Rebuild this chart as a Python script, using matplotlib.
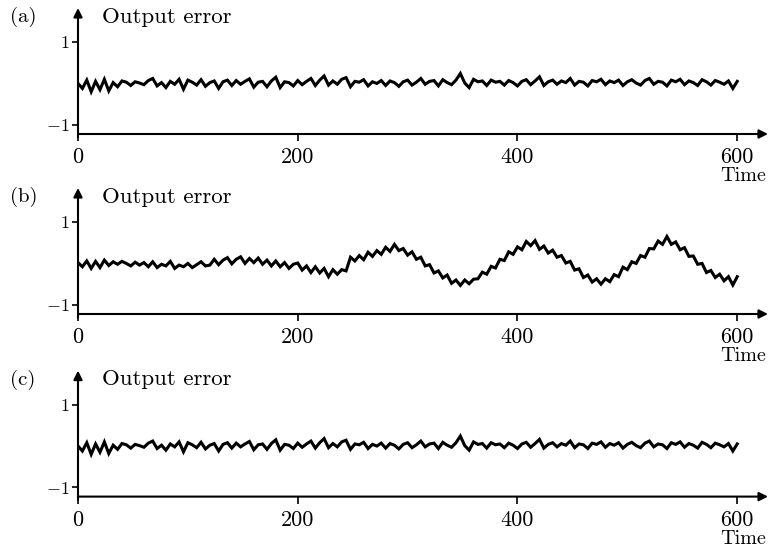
import numpy as np
import matplotlib.pyplot as plt

# Zaman ekseni (her 4 birimde bir okunan değerler)
time = np.arange(0, 601, 4)

# (a) çıkış hatası
err_a = [0.00, -0.12, 0.08, -0.20, 0.05, -0.15, 0.10, -0.18, 0.02, -0.08,
         0.06, 0.03, -0.05, 0.04, 0.01, -0.03, 0.07, 0.12, -0.06, 0.02,
         -0.10, 0.05, -0.02, 0.10, -0.14, 0.08, 0.03, -0.04, 0.09, -0.07,
         0.02, 0.06, -0.12, 0.04, 0.08, -0.05, 0.07, -0.02, 0.05, 0.11,
         -0.09, 0.03, 0.05, -0.08, 0.06, 0.15, -0.10, 0.04, 0.02, -0.06,
         0.07, -0.03, 0.05, 0.12, -0.05, 0.08, 0.18, -0.04, 0.06, -0.02,
         0.10, 0.14, -0.08, 0.05, 0.03, 0.09, -0.06, 0.04, 0.00, 0.07,
         -0.05, 0.06, 0.02, -0.07, 0.04, 0.08, -0.04, 0.03, 0.12, -0.02,
         0.05, 0.07, -0.06, 0.09, 0.02, -0.03, 0.08, 0.24, 0.01, -0.10,
         0.10, 0.04, 0.06, -0.05, 0.08, 0.03, 0.05, -0.04, 0.07, 0.02,
         -0.06, 0.05, 0.09, -0.03, 0.06, 0.16, -0.05, 0.04, 0.08, -0.02,
         0.06, 0.02, 0.12, -0.04, 0.05, 0.03, -0.06, 0.07, 0.04, 0.10,
         -0.03, 0.06, 0.02, 0.08, -0.05, 0.04, 0.09, 0.01, -0.04, 0.07,
         0.12, -0.02, 0.05, 0.03, -0.06, 0.08, 0.04, 0.10, -0.03, 0.06,
         0.02, -0.05, 0.09, 0.04, -0.04, 0.07, 0.03, -0.02, 0.06, -0.12,
         0.05]

# (b) çıkış hatası - yavaş salınımlı
err_b = [0.02, -0.08, 0.06, -0.12, 0.05, -0.10, 0.08, -0.05, 0.04, -0.02,
         0.05, 0.00, -0.06, 0.03, -0.04, 0.02, -0.08, 0.04, -0.10, -0.02,
         -0.06, 0.05, -0.12, -0.04, -0.08, 0.00, -0.10, -0.03, 0.04, -0.06,
         -0.04, 0.10, -0.03, 0.08, 0.14, -0.01, 0.10, 0.16, 0.00, 0.12,
         0.02, 0.13, -0.02, 0.08, -0.06, 0.06, -0.08, 0.02, -0.12, -0.02,
         0.01, -0.16, -0.06, -0.22, -0.08, -0.23, -0.12, -0.32, -0.15, -0.26,
         -0.15, -0.18, 0.15, 0.06, 0.19, 0.09, 0.27, 0.17, 0.31, 0.22,
         0.39, 0.29, 0.46, 0.31, 0.36, 0.20, 0.28, 0.10, 0.15, -0.06,
         -0.03, -0.23, -0.18, -0.35, -0.28, -0.48, -0.40, -0.53, -0.40, -0.49,
         -0.38, -0.37, -0.21, -0.26, -0.07, -0.11, 0.10, 0.07, 0.28, 0.22,
         0.40, 0.33, 0.53, 0.43, 0.55, 0.34, 0.42, 0.25, 0.32, 0.15,
         0.19, 0.01, 0.05, -0.16, -0.13, -0.34, -0.28, -0.45, -0.37, -0.50,
         -0.37, -0.44, -0.27, -0.32, -0.09, -0.15, 0.04, 0.00, 0.19, 0.15,
         0.36, 0.35, 0.54, 0.46, 0.65, 0.46, 0.52, 0.33, 0.38, 0.17,
         0.18, -0.02, 0.00, -0.22, -0.17, -0.34, -0.26, -0.42, -0.32, -0.52,
         -0.32]

# (c) çıkış hatası - (a) ile neredeyse aynı
err_c = list(err_a)

panels = ['(a)', '(b)', '(c)']
series = [err_a, err_b, err_c]
xticks = [0, 200, 400, 600]
xticklabels = ['0', '200', '400', '600']
yticks = [-1, 1]
yticklabels = [r'$-1$', r'$1$']

plt.rcParams['font.family'] = ['cmr10', 'DejaVu Serif']
plt.rcParams['mathtext.fontset'] = 'cm'

fig = plt.figure(figsize=(7.71, 5.5), dpi=100)

W, H = 771, 550
ymin, ymax = -1.22, 1.82
xmin, xmax = 0, 628
bottoms_px = [134, 314, 496.6]
height_px = 126

for label, err, bpx in zip(panels, series, bottoms_px):
    ax = fig.add_axes([78 / W, 1 - bpx / H, 690 / W, height_px / H])
    ax.plot(time, err, color='black', lw=2.2, solid_joinstyle='miter')
    ax.set_xlim(xmin, xmax)
    ax.set_ylim(ymin, ymax)
    for s in ax.spines.values():
        s.set_visible(False)

    # Eksen okları
    ax.annotate('', xy=(0, ymax), xytext=(0, ymin - 0.08),
                arrowprops=dict(arrowstyle='-|>', lw=1.5, color='black',
                                mutation_scale=13, shrinkA=0, shrinkB=0),
                annotation_clip=False)
    ax.annotate('', xy=(xmax, ymin), xytext=(0, ymin),
                arrowprops=dict(arrowstyle='-|>', lw=1.5, color='black',
                                mutation_scale=13, shrinkA=0, shrinkB=0),
                annotation_clip=False)

    ax.set_xticks(xticks)
    ax.set_xticklabels(xticklabels, fontsize=16)
    ax.set_yticks(yticks)
    ax.set_yticklabels(yticklabels, fontsize=13)
    ax.tick_params(axis='x', direction='out', length=5, width=1.2, pad=5)
    ax.tick_params(axis='y', direction='out', length=4, width=1.2, pad=2)

    ax.text(-62, 1.6, label, fontsize=15, ha='left', va='center')
    ax.text(22, 1.6, 'Output error', fontsize=16.5, ha='left', va='center')
    ax.text(605, -1.22 - 42 / 41.5, 'Time', fontsize=14.5, ha='center', va='center')

fig.savefig('out.png', dpi=100)
